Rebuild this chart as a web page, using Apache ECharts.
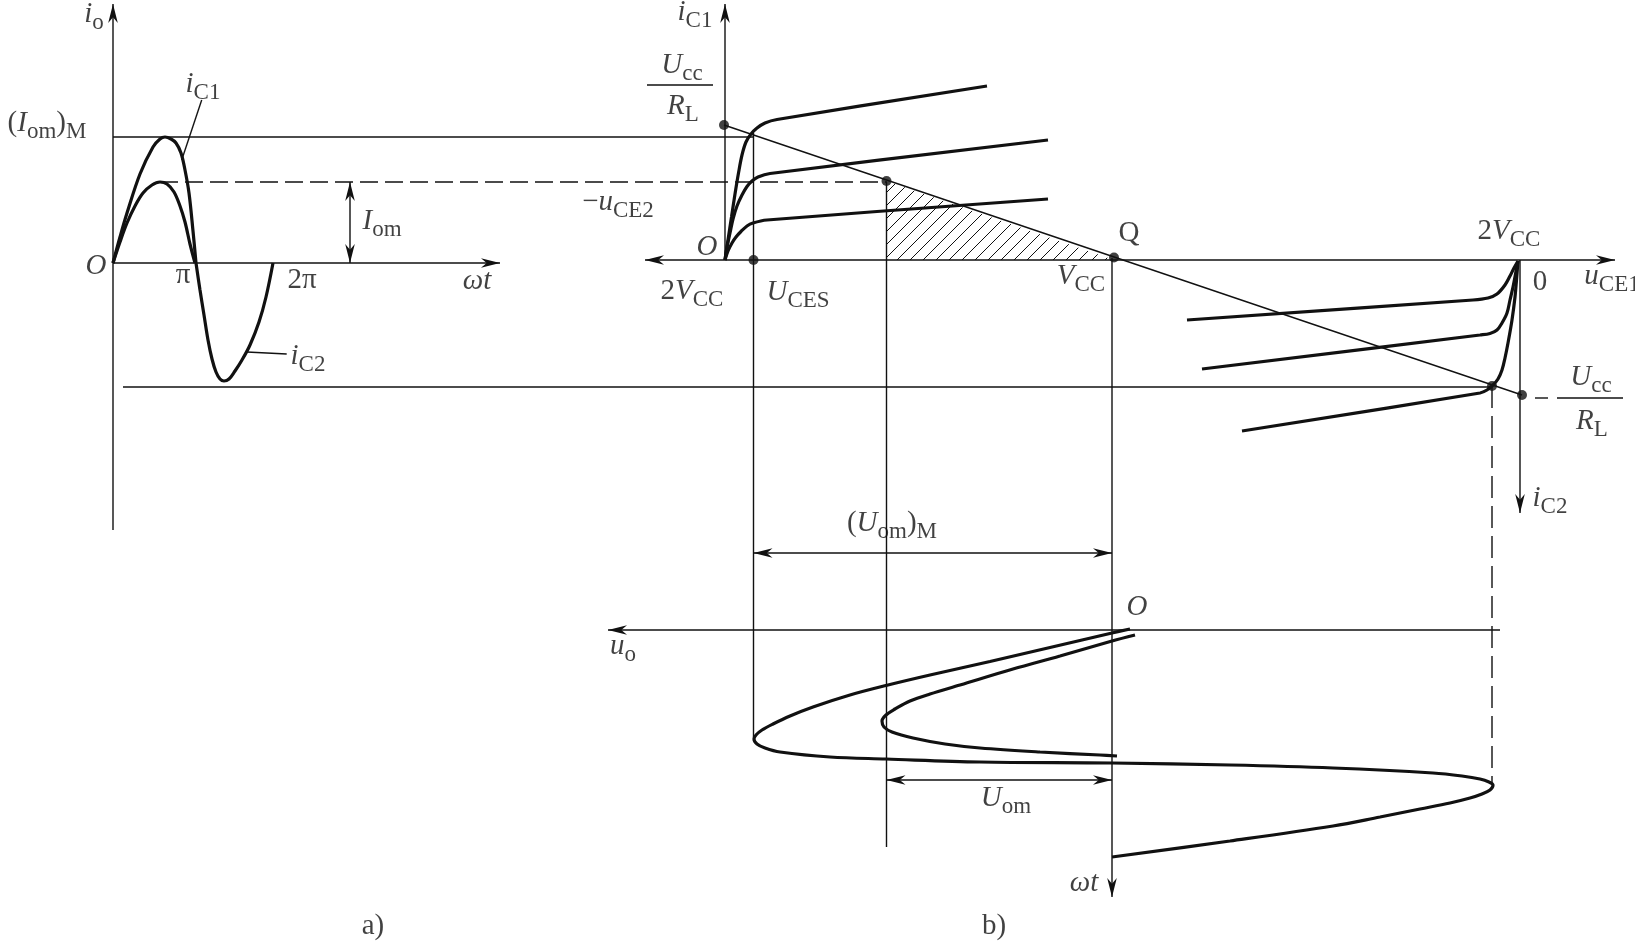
<!DOCTYPE html>
<html>
<head>
<meta charset="utf-8">
<script src="https://cdn.jsdelivr.net/npm/echarts@6/dist/echarts.min.js"></script>
<style>
  html, body { margin: 0; background: #fff; }
  #main { width: 1635px; height: 946px; }
</style>
</head>
<body>
<div id="main"></div>
<script>
// drawing units follow the figure: 1635 x 946, y grows downwards
const W = 1635, H = 946;

// a) collector currents against ωt
const iC1Max = [[113,263],[120,237],[127,213],[140,174],[153,147],[160,139],[165,137],[171,139],[176,143],[181,153],[185,170],[189,193],[193,231],[196,263]];
const iC1 = [[113,263],[120,242],[127,223],[135,206],[143,193],[152,185],[160,182],[167,184],[174,192],[180,206],[185,222],[190,244],[195,263]];
const iC2 = [[196,263],[200,290],[204,315],[208,340],[212,359],[216,372],[220,379],[224,381],[229,379],[235,371],[242,360],[250,345],[259,322],[266,297],[273,263]];

// b) output characteristics, T1 (upper left) and T2 (mirrored, lower right)
const t1High = [[725,260],[728,240],[731.5,217],[735,194],[738.5,173],[742,155],[746,142],[751,134],[757,128],[765,123],[777,119.5],[987,86]];
const t1Mid = [[725,260],[727,247],[730,233],[733,219],[737,206],[742,195],[747,186.5],[752,181],[758,177],[770,173.5],[1048,140]];
const t1Low = [[725,260],[728,251],[732,243],[736,237],[741,231.5],[747,226],[753,223],[767,220],[1048,199]];
const t2Low = [[1518,261],[1514,268],[1510,276],[1505,285],[1497,294],[1488,298],[1473,300],[1187,320]];
const t2Mid = [[1518,261],[1515.5,274],[1513,287],[1510,300],[1507,313],[1502,323],[1497,330],[1490,333.5],[1480,335],[1202,369]];
const t2High = [[1518,261],[1516.5,280],[1515,297],[1512,320],[1508,343],[1505,358],[1502,370],[1498,379],[1493,385],[1487,390],[1480,393],[1242,431]];

// output voltage u_o against ωt (time runs downwards)
const uoMax = [[1130,629],[1112,633],[1050,647.5],[990,661.5],[930,675],[886,685.5],[850,695],[813,707],[790,716],[773,724],[762,730],[756,735],[754,739],[757,744],[765,748],[780,752],[830,757],[886,759],[980,762],[1112,763],[1230,765],[1333,768],[1433,773],[1462,776],[1480,779],[1489,782],[1493,785],[1490,790],[1482,794],[1470,798],[1450,803],[1420,809],[1380,817],[1333,826],[1230,841],[1112,857]];
const uo = [[1135,635],[1112,641],[1060,656],[1013,669],[960,685],[930,694],[910,701],[895,709],[886,715],[882,721],[884,727],[892,732],[913,738],[945,744],[980,748],[1040,752],[1100,755],[1117,756]];

// straight strokes: x1, y1, x2, y2, arrow at start, arrow at end
const axes = [
  [113, 530, 113, 4, 0, 1],
  [113, 263, 500, 263, 0, 1],
  [725, 260, 725, 4, 0, 1],
  [645, 260, 1615, 260, 1, 1],
  [1520, 260, 1520, 513, 0, 1],
  [1500, 630, 608, 630, 0, 1],
  [1112, 258, 1112, 897, 0, 1]
];
const guides = [
  [113, 137, 753.5, 137],
  [123, 387, 1492, 387],
  [724, 125, 1522, 395],
  [753.5, 133, 753.5, 737],
  [886.5, 182, 886.5, 847],
  [647, 85, 713, 85],
  [1557, 398, 1623, 398],
  [201.7, 100, 181.7, 160],
  [246.7, 352, 286.7, 354]
];
const dims = [
  [350, 182, 350, 263, 1, 1],
  [753.5, 553, 1112, 553, 1, 1],
  [886.5, 780, 1112, 780, 1, 1]
];
const dashedH = [[160, 182, 887, 182], [1535, 398, 1548, 398]];
const dashedV = [[1492, 386, 1492, 785]];
const dots = [[724,125],[753.5,260],[886.5,181],[1114,257.5],[1522,395],[1492,386]];
const hatchArea = [[886.5,181],[886.5,260],[1114,260]];

// labels: x, y (centre), rich text
const labels = [
  [94, 14, '{v|i}{s|o}'],
  [203, 84, '{v|i}{s|C1}'],
  [47, 123, '{r|(}{v|I}{s|om}{r|)}{m|M}'],
  [96, 266, '{v|O}'],
  [183, 275, '{r|π}'],
  [302, 280, '{r|2π}'],
  [477, 281, '{v|ωt}'],
  [382, 221, '{v|I}{s|om}'],
  [308, 356, '{v|i}{s|C2}'],
  [695, 12, '{v|i}{s|C1}'],
  [682, 65, '{v|U}{s|cc}'],
  [683, 106, '{v|R}{s|L}'],
  [618, 202, '{r|−}{v|u}{s|CE2}'],
  [707, 247, '{v|O}'],
  [692, 291, '{r|2}{v|V}{s|CC}'],
  [798, 292, '{v|U}{s|CES}'],
  [1081, 276, '{v|V}{s|CC}'],
  [1129, 233, '{r|Q}'],
  [1509, 231, '{r|2}{v|V}{s|CC}'],
  [1540, 282, '{r|0}'],
  [1612, 276, '{v|u}{s|CE1}'],
  [1591, 377, '{v|U}{s|cc}'],
  [1592, 421, '{v|R}{s|L}'],
  [1550, 498, '{v|i}{s|C2}'],
  [892, 523, '{r|(}{v|U}{s|om}{r|)}{m|M}'],
  [623, 646, '{v|u}{s|o}'],
  [1006, 798, '{v|U}{s|om}'],
  [1137, 607, '{v|O}'],
  [1084, 883, '{v|ωt}'],
  [373, 926, '{r|a)}'],
  [994, 926, '{r|b)}']
];

const INK = '#111';
const FONT = '"Liberation Serif", "Times New Roman", serif';

// hatching tile for the shaded triangle
const tile = document.createElement('canvas');
tile.width = tile.height = 13;
const g = tile.getContext('2d');
g.strokeStyle = INK;
g.lineWidth = 1;
g.beginPath();
g.moveTo(-1, 14); g.lineTo(14, -1);
g.stroke();

function arrowHead(from, tip) {
  const dx = tip[0] - from[0], dy = tip[1] - from[1];
  const len = Math.hypot(dx, dy) || 1;
  const ux = dx / len, uy = dy / len, nx = -uy, ny = ux;
  const L = 19, w = 4.8;
  return {
    type: 'polygon',
    shape: { points: [
      tip,
      [tip[0] - L * ux + w * nx, tip[1] - L * uy + w * ny],
      [tip[0] - 0.7 * L * ux, tip[1] - 0.7 * L * uy],
      [tip[0] - L * ux - w * nx, tip[1] - L * uy - w * ny]
    ] },
    style: { fill: INK }
  };
}

function strokes(list, width, dash) {
  return {
    type: 'custom',
    coordinateSystem: 'cartesian2d',
    silent: true,
    data: list.map(d => [d[0], d[1], d[2], d[3], d[4] || 0, d[5] || 0]),
    encode: { x: [0, 2], y: [1, 3] },
    renderItem: (params, api) => {
      const a = api.coord([api.value(0), api.value(1)]);
      const b = api.coord([api.value(2), api.value(3)]);
      const children = [{
        type: 'line',
        shape: { x1: a[0], y1: a[1], x2: b[0], y2: b[1] },
        style: { stroke: INK, lineWidth: width, lineDash: dash || null }
      }];
      if (api.value(4)) children.push(arrowHead(b, a));
      if (api.value(5)) children.push(arrowHead(a, b));
      return { type: 'group', children };
    }
  };
}

function curve(pts) {
  return {
    type: 'line',
    data: pts,
    smooth: 0.35,
    symbol: 'none',
    silent: true,
    lineStyle: { color: INK, width: 3.2 }
  };
}

const chart = echarts.init(document.getElementById('main'));
chart.setOption({
  animation: false,
  backgroundColor: '#fff',
  grid: { left: 0, right: 0, top: 0, bottom: 0 },
  xAxis: { type: 'value', min: 0, max: W, show: false },
  yAxis: { type: 'value', min: 0, max: H, inverse: true, show: false },
  series: [
    {
      type: 'custom',
      coordinateSystem: 'cartesian2d',
      silent: true,
      data: [0],
      renderItem: (params, api) => ({
        type: 'polygon',
        shape: { points: hatchArea.map(p => api.coord(p)) },
        style: { fill: { image: tile, repeat: 'repeat' }, stroke: null }
      })
    },
    strokes(axes, 1.4),
    strokes(guides, 1.4),
    strokes(dims, 1.4),
    strokes(dashedH, 1.4, [18, 7]),
    strokes(dashedV, 1.4, [22, 8]),
    curve(iC1Max), curve(iC1), curve(iC2),
    curve(t1High), curve(t1Mid), curve(t1Low),
    curve(t2High), curve(t2Mid), curve(t2Low),
    curve(uoMax), curve(uo),
    {
      type: 'scatter',
      data: dots,
      symbolSize: 10,
      silent: true,
      itemStyle: { color: INK }
    },
    {
      type: 'scatter',
      silent: true,
      symbolSize: 1,
      itemStyle: { color: 'rgba(0,0,0,0)' },
      data: labels.map(l => ({ value: [l[0], l[1]], name: l[2] })),
      label: {
        show: true,
        position: 'inside',
        formatter: p => p.name,
        color: INK,
        rich: {
          v: { fontFamily: FONT, fontStyle: 'italic', fontSize: 29, lineHeight: 40, color: INK },
          r: { fontFamily: FONT, fontSize: 29, lineHeight: 40, color: INK },
          s: { fontFamily: FONT, fontSize: 23, lineHeight: 24, verticalAlign: 'bottom', color: INK },
          m: { fontFamily: FONT, fontSize: 23, lineHeight: 6, verticalAlign: 'bottom', color: INK }
        }
      }
    }
  ]
});
</script>
</body>
</html>
